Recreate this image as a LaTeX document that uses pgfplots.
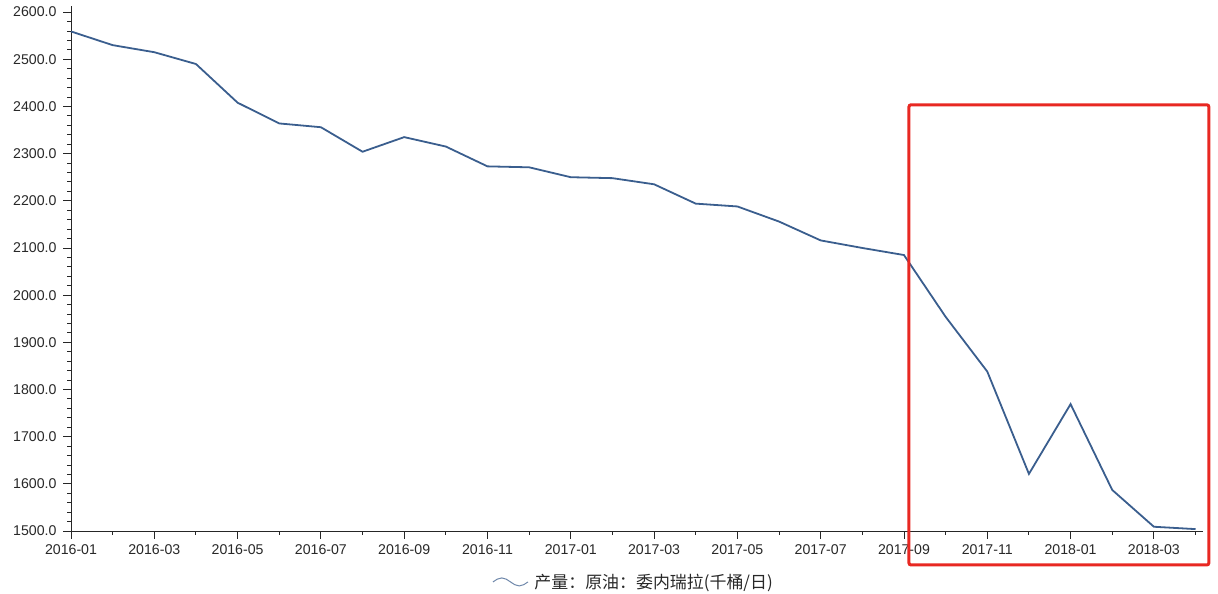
\documentclass[border=0pt]{standalone}
\usepackage{fontspec}
\setmainfont{Liberation Sans}
\newfontfamily\cjk{Noto Sans CJK SC}
\usepackage{pgfplots}
\pgfplotsset{compat=1.18}
\definecolor{lineblue}{RGB}{58,94,142}
\definecolor{legblue}{RGB}{110,135,170}
\definecolor{boxred}{RGB}{232,40,34}
\definecolor{txt}{RGB}{40,40,40}
\pgfplotstableread{
x y
0 2559
1 2530
2 2515
3 2490
4 2408
5 2364
6 2356
7 2304
8 2335
9 2315
10 2273
11 2271
12 2250
13 2248
14 2235
15 2194
16 2188
17 2156
18 2116
19 2100
20 2085
21 1954
22 1838
23 1621
24 1769
25 1587
26 1509
27 1504
}\oil
\begin{document}
\begin{tikzpicture}[x=1bp,y=1bp]
\useasboundingbox (0,0) rectangle (1218,594);
\begin{axis}[
  at={(71bp,63bp)}, anchor=south west,
  scale only axis, width=1132bp, height=525bp,
  xmin=0, xmax=27.18, ymin=1500, ymax=2613,
  axis lines*=left,
  axis line style={black!85, line width=0.9bp},
  clip=false,
  tick align=outside,
  major tick length=8bp, minor tick length=4bp,
  tick style={black!85, line width=0.9bp},
  xtick={0,2,...,26},
  xticklabels={2016-01,2016-03,2016-05,2016-07,2016-09,2016-11,2017-01,2017-03,2017-05,2017-07,2017-09,2017-11,2018-01,2018-03},
  minor xtick={1,3,...,27},
  ytick={1500,1600,...,2600},
  minor y tick num=4,
  /pgf/number format/assume math mode=true,
  yticklabel style={xshift=-3bp, /pgf/number format/.cd, fixed, fixed zerofill, precision=1, 1000 sep={}},
  xticklabel style={yshift=-2bp},
  ticklabel style={font=\fontsize{14.2}{16}\selectfont, text=txt},
  legend style={draw=none, fill=none, at={(0.497,-0.097)}, anchor=center,
    font=\cjk\fontsize{17}{19}\selectfont, text=txt},
  legend cell align=left,
]
\addplot[lineblue, line width=1.8bp,
  legend image code/.code={\draw[legblue, line width=1bp] (0bp,0bp) sin (8.75bp,4bp) cos (17.5bp,0bp) sin (26.25bp,-4bp) cos (35bp,0bp);}
] table[x=x,y=y] {\oil};
\addlegendentry{\hspace{4bp}产量：原油：委内瑞拉(千桶/日)}
\draw[boxred, line width=3bp, rounded corners=2bp] (axis cs:20.12,1428) rectangle (axis cs:27.32,2403.5);
\end{axis}
\end{tikzpicture}
\end{document}
